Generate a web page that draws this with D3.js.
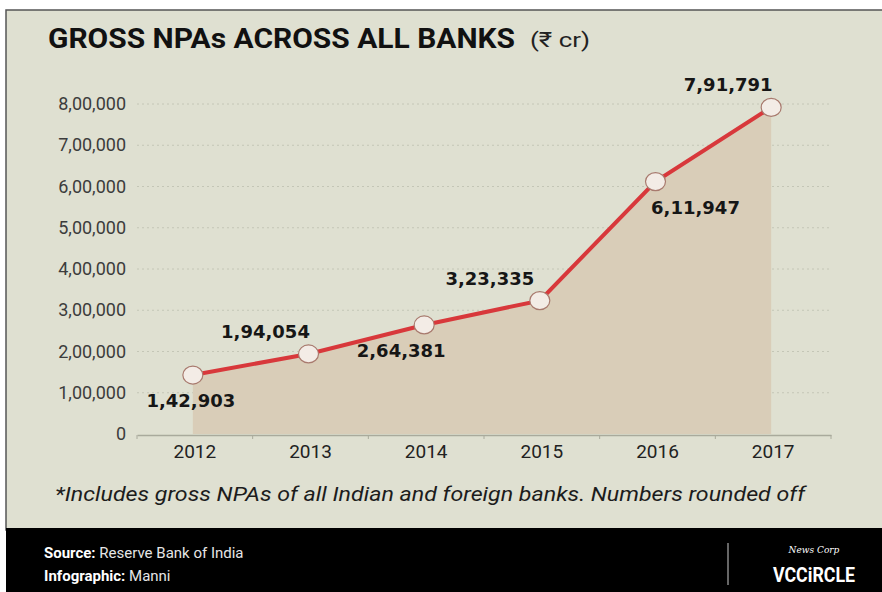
<!DOCTYPE html>
<html>
<head>
<meta charset="utf-8">
<script src="https://cdn.jsdelivr.net/npm/d3@7"></script>
<style>
  body { margin: 0; background: #fff; }
  svg { display: block; }
</style>
</head>
<body>
<svg id="chart" width="882" height="592"></svg>
<script>
'use strict';

var years = ['2012', '2013', '2014', '2015', '2016', '2017'];
var npaValues = [142903, 194054, 264381, 323335, 611947, 791791];
var yTicks = [0, 100000, 200000, 300000, 400000, 500000, 600000, 700000, 800000];
// where each value label sits relative to its point
var labelSide = ['below', 'above', 'below', 'above', 'below', 'above'];

// indian grouping: 8,00,000
function inr(n) {
  var s = String(n);
  if (s.length <= 3) return s;
  var last = s.slice(-3);
  var rest = s.slice(0, -3).replace(/\B(?=(\d{2})+(?!\d))/g, ',');
  return rest + ',' + last;
}

var svg = d3.select('#chart');

// panel + footer
svg.append('rect')
  .attr('x', 6).attr('y', 10)
  .attr('width', 882).attr('height', 520)
  .attr('fill', '#dfe0d1')
  .attr('stroke', '#555').attr('stroke-width', 1.5);
svg.append('rect')
  .attr('x', 6).attr('y', 528)
  .attr('width', 876).attr('height', 64)
  .attr('fill', '#000');

var x = d3.scaleBand().domain(years).range([137, 831]);
var y = d3.scaleLinear().domain([0, 800000]).range([434, 104]);
var cx = function(d, i) { return x(years[i]) + x.bandwidth() / 2 - 2; };

// title
svg.append('text')
  .attr('x', 48).attr('y', 48)
  .attr('font-family', 'Roboto, sans-serif')
  .attr('font-weight', 700)
  .attr('font-size', 28)
  .attr('textLength', 467)
  .attr('lengthAdjust', 'spacingAndGlyphs')
  .attr('fill', '#111')
  .text('GROSS NPAs ACROSS ALL BANKS');
svg.append('text')
  .attr('x', 530).attr('y', 47)
  .attr('font-family', 'Roboto, sans-serif')
  .attr('font-size', 21)
  .attr('textLength', 60)
  .attr('lengthAdjust', 'spacingAndGlyphs')
  .attr('fill', '#222')
  .text('(₹ cr)');

// gridlines
svg.append('g')
  .selectAll('line')
  .data(yTicks.slice(1))
  .enter()
  .append('line')
  .attr('x1', 137).attr('x2', 831)
  .attr('y1', function(d) { return y(d); })
  .attr('y2', function(d) { return y(d); })
  .attr('stroke', '#c4c6b6')
  .attr('stroke-width', 1)
  .attr('stroke-dasharray', '2,3');

// area under line
var area = d3.area()
  .x(cx)
  .y0(y(0))
  .y1(function(d) { return y(d); });
svg.append('path')
  .datum(npaValues)
  .attr('d', area)
  .attr('fill', '#d9cdb8');

// y axis labels
svg.append('g')
  .selectAll('text')
  .data(yTicks)
  .enter()
  .append('text')
  .attr('x', 126)
  .attr('y', function(d) { return y(d) + 6; })
  .attr('text-anchor', 'end')
  .attr('font-family', 'Roboto, sans-serif')
  .attr('font-size', 18)
  .attr('fill', '#3c3c3c')
  .text(inr);

// x axis
var xAxis = d3.axisBottom(x).tickSize(0).tickPadding(10);
var gx = svg.append('g')
  .attr('transform', 'translate(0,' + (y(0) + 1) + ')')
  .call(xAxis);
gx.select('.domain').attr('stroke', '#a9aa9c').attr('stroke-width', 1.5);
gx.selectAll('.tick text')
  .attr('font-family', 'Roboto, sans-serif')
  .attr('font-size', 19)
  .attr('fill', '#222');
gx.selectAll('.sep')
  .data(d3.range(years.length + 1))
  .enter()
  .append('line')
  .attr('x1', function(i) { return 137 + i * x.bandwidth(); })
  .attr('x2', function(i) { return 137 + i * x.bandwidth(); })
  .attr('y1', 0).attr('y2', 4)
  .attr('stroke', '#a9aa9c');

// line
var line = d3.line()
  .x(cx)
  .y(function(d) { return y(d); });
svg.append('path')
  .datum(npaValues)
  .attr('d', line)
  .attr('fill', 'none')
  .attr('stroke', '#d8383b')
  .attr('stroke-width', 4);

svg.append('g')
  .selectAll('ellipse')
  .data(npaValues)
  .enter()
  .append('ellipse')
  .attr('cx', cx)
  .attr('cy', function(d) { return y(d); })
  .attr('rx', 10).attr('ry', 9)
  .attr('fill', '#f3ece6')
  .attr('stroke', '#a87a6e')
  .attr('stroke-width', 1.2);

// value labels
svg.append('g')
  .selectAll('text')
  .data(npaValues)
  .enter()
  .append('text')
  .attr('x', function(d, i) {
    var off = [-2, -43, -23, -50, 40, -43][i];
    return cx(d, i) + off;
  })
  .attr('y', function(d, i) {
    return y(d) + (labelSide[i] === 'above' ? -16 : 32);
  })
  .attr('text-anchor', 'middle')
  .attr('font-family', 'DejaVu Sans, sans-serif')
  .attr('font-weight', 700)
  .attr('font-size', 18)
  .attr('fill', '#161616')
  .text(inr);

// footnote
svg.append('text')
  .attr('x', 55).attr('y', 501)
  .attr('font-family', 'Roboto, sans-serif')
  .attr('font-style', 'italic')
  .attr('font-size', 20)
  .attr('textLength', 750)
  .attr('lengthAdjust', 'spacingAndGlyphs')
  .attr('fill', '#1c1c1c')
  .text('*Includes gross NPAs of all Indian and foreign banks. Numbers rounded off');

// footer
var foot = svg.append('g')
  .attr('font-family', 'Roboto, sans-serif')
  .attr('font-size', 15)
  .attr('fill', '#e6e6e6');
var src = foot.append('text').attr('x', 44).attr('y', 558);
src.append('tspan').attr('font-weight', 700).attr('fill', '#fff').text('Source:');
src.append('tspan').text(' Reserve Bank of India');
var inf = foot.append('text').attr('x', 44).attr('y', 581);
inf.append('tspan').attr('font-weight', 700).attr('fill', '#fff').text('Infographic:');
inf.append('tspan').text(' Manni');

svg.append('line')
  .attr('x1', 728).attr('x2', 728)
  .attr('y1', 543).attr('y2', 585)
  .attr('stroke', '#ccc').attr('stroke-width', 1);
svg.append('text')
  .attr('x', 814).attr('y', 553)
  .attr('text-anchor', 'middle')
  .attr('font-family', 'DejaVu Serif, serif')
  .attr('font-style', 'italic')
  .attr('font-size', 9)
  .attr('fill', '#fff')
  .text('News Corp');
svg.append('text')
  .attr('x', 773).attr('y', 582)
  .attr('font-family', 'Roboto, sans-serif')
  .attr('font-weight', 700)
  .attr('font-size', 21)
  .attr('textLength', 82)
  .attr('lengthAdjust', 'spacingAndGlyphs')
  .attr('fill', '#fff')
  .text('VCCiRCLE');
</script>
</body>
</html>
